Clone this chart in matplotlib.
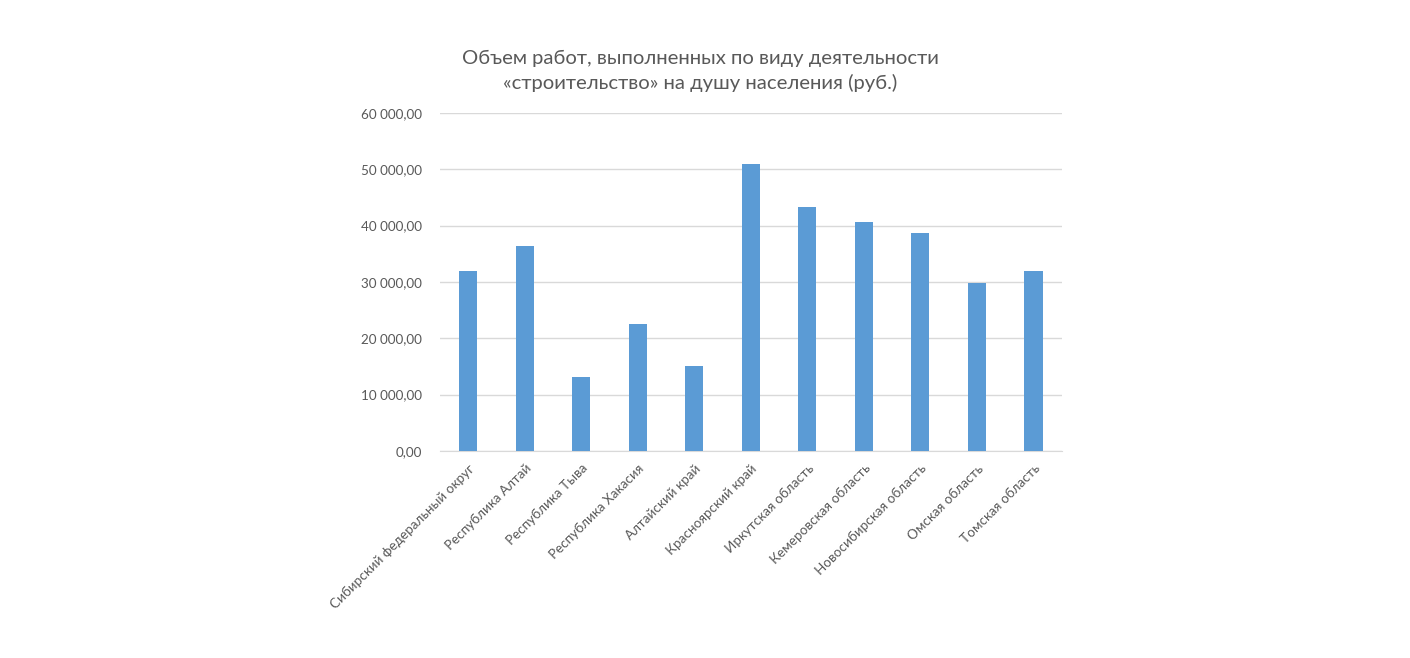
import matplotlib.pyplot as plt
from matplotlib.ticker import FuncFormatter

regions = ["Сибирский федеральный округ", "Республика Алтай", "Республика Тыва",
           "Республика Хакасия", "Алтайский край", "Красноярский край",
           "Иркутская область", "Кемеровская область", "Новосибирская область",
           "Омская область", "Томская область"]
values = [32000, 36300, 13100, 22600, 15000, 51000, 43200, 40700, 38600, 29800, 32000]
yticks = [0, 10000, 20000, 30000, 40000, 50000, 60000]

plt.rcParams['font.family'] = ['Lato', 'DejaVu Sans']
gray = '#595959'

fig = plt.figure(figsize=(14.1, 6.58), dpi=100)
ax = fig.add_axes([0.312, 0.3146, 0.441, 0.514])

x = range(len(regions))
ax.bar(x, values, width=0.32, color='#5b9bd5', zorder=3)

ax.set_xlim(-0.5, len(regions) - 0.5)
ax.set_ylim(0, 60000)
ax.set_yticks(yticks)
ax.yaxis.set_major_formatter(FuncFormatter(lambda v, p: f"{v:,.2f}".replace(",", " ").replace(".", ",")))
ax.grid(axis='y', color='#d9d9d9', linewidth=1, zorder=0)
ax.set_axisbelow(True)

for s in ['top', 'right', 'left']:
    ax.spines[s].set_visible(False)
ax.spines['bottom'].set_color('#d9d9d9')

ax.set_xticks(list(x))
ax.set_xticklabels(regions, rotation=45, ha='right', rotation_mode='anchor')
ax.tick_params(axis='both', length=0, labelsize=9.7, labelcolor=gray)
ax.tick_params(axis='y', pad=13)
ax.tick_params(axis='x', pad=8)

fig.text(0.4965, 0.892, "Объем работ, выполненных по виду деятельности\n«строительство» на душу населения (руб.)",
         ha='center', va='center', fontsize=14.6, color=gray, linespacing=1.5)

fig.savefig('out.png', dpi=100, facecolor='white')
